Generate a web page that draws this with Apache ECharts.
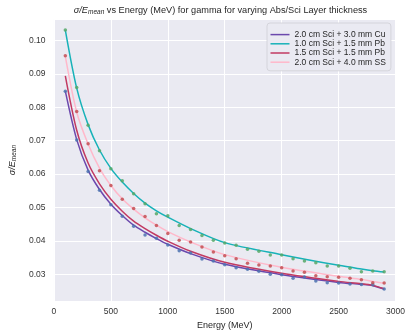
<!DOCTYPE html>
<html>
<head>
<meta charset="utf-8">
<script src="https://cdn.jsdelivr.net/npm/echarts@6/dist/echarts.min.js"></script>
<style>
  html, body { margin: 0; padding: 0; background: #fff; }
  #chart { width: 408px; height: 335px; }
</style>
</head>
<body>
<div id="chart"></div>
<script>
// measured energies (MeV)
var energies = [100, 200, 300, 400, 500, 600, 700, 800, 900, 1000, 1100, 1200, 1300, 1400, 1500,
  1600, 1700, 1800, 1900, 2000, 2100, 2200, 2300, 2400, 2500, 2600, 2700, 2800, 2900];

// data points (sigma / E_mean)
var ptsCu = [0.0848, 0.0702, 0.0608, 0.0552, 0.0508, 0.0474, 0.0444, 0.0418, 0.0408, 0.0388, 0.0371, 0.0364, 0.0346, 0.0340, 0.0329,
  0.0320, 0.0315, 0.0309, 0.0300, 0.0299, 0.0288, 0.0292, 0.0280, 0.0275, 0.0274, 0.0271, 0.0270, 0.0270, 0.0256];
var ptsPb10 = [0.1031, 0.0859, 0.0746, 0.0670, 0.0616, 0.0580, 0.0541, 0.0511, 0.0481, 0.0475, 0.0446, 0.0434, 0.0416, 0.0402, 0.0394,
  0.0387, 0.0375, 0.0369, 0.0358, 0.0358, 0.0347, 0.0340, 0.0335, 0.0325, 0.0325, 0.0318, 0.0308, 0.0310, 0.0308];
var ptsSS = [0.0954, 0.0787, 0.0691, 0.0610, 0.0566, 0.0525, 0.0497, 0.0473, 0.0446, 0.0422, 0.0402, 0.0397, 0.0382, 0.0367, 0.0356,
  0.0347, 0.0333, 0.0328, 0.0325, 0.0320, 0.0310, 0.0306, 0.0296, 0.0293, 0.0291, 0.0288, 0.0284, 0.0275, 0.0274];

var fitE = [100, 200, 300, 400, 500, 600, 700, 800, 900, 1000, 1200, 1500, 2000, 2500, 2700, 2800, 2900];
var fitCu   = [0.0848, 0.0703, 0.0612, 0.0554, 0.0510, 0.0476, 0.0447, 0.0426, 0.0407, 0.0390, 0.0362, 0.0330, 0.0299, 0.0276, 0.0270, 0.0266, 0.0256];
var fitPb10 = [0.1031, 0.0857, 0.0748, 0.0672, 0.0617, 0.0576, 0.0542, 0.0513, 0.0490, 0.0471, 0.0437, 0.0395, 0.0359, 0.0327, 0.0316, 0.0311, 0.0307];
var fitPb15 = [0.0894, 0.0731, 0.0633, 0.0571, 0.0525, 0.0489, 0.0459, 0.0437, 0.0417, 0.0399, 0.0369, 0.0336, 0.0303, 0.0279, 0.0272, 0.0267, 0.0257];
var fitSS   = [0.0952, 0.0785, 0.0690, 0.0618, 0.0566, 0.0526, 0.0495, 0.0469, 0.0447, 0.0428, 0.0397, 0.0359, 0.0321, 0.0294, 0.0285, 0.0279, 0.0273];

var names = ['2.0 cm Sci + 3.0 mm Cu', '1.0 cm Sci + 1.5 mm Pb', '1.5 cm Sci + 1.5 mm Pb', '2.0 cm Sci + 4.0 mm SS'];
var lineColors = ['#6b48ad', '#17b2b8', '#c23a62', '#ffb8ca'];
var fits = [fitCu, fitPb10, fitPb15, fitSS];
var points = [[ptsCu, '#4c72b0'], [ptsPb10, '#55a868'], [ptsSS, '#c44e52']];

function pairs(xs, ys) {
  return xs.map(function (x, i) { return [x, ys[i]]; });
}

var FONT = 'Liberation Sans';
var series = [];
fits.forEach(function (f, i) {
  series.push({
    name: names[i],
    type: 'line',
    data: pairs(fitE, f),
    smooth: 0.3,
    symbol: 'none',
    lineStyle: { color: lineColors[i], width: 1.5 },
    itemStyle: { color: lineColors[i] },
    z: 2
  });
});
points.forEach(function (p) {
  series.push({
    type: 'scatter',
    data: pairs(energies, p[0]),
    symbolSize: 3.5,
    itemStyle: { color: p[1], opacity: 0.85 },
    z: 3
  });
});

var chart = echarts.init(document.getElementById('chart'), null, { renderer: 'canvas' });
chart.setOption({
  animation: false,
  backgroundColor: '#ffffff',
  textStyle: { fontFamily: FONT },
  title: {
    text: '{i|σ/E}{s|mean}{n| vs Energy (MeV) for gamma for varying Abs/Sci Layer thickness}',
    left: 220.5,
    textAlign: 'center',
    top: 4.5,
    padding: 0,
    textStyle: {
      fontWeight: 'normal',
      rich: {
        i: { fontFamily: FONT, fontSize: 9.2, fontStyle: 'italic', fontWeight: 'normal', color: '#262626' },
        s: { fontFamily: FONT, fontSize: 6.5, fontStyle: 'italic', fontWeight: 'normal', color: '#262626', padding: [4, 0, 0, 0] },
        n: { fontFamily: FONT, fontSize: 9.2, fontWeight: 'normal', color: '#262626' }
      }
    }
  },
  legend: {
    orient: 'vertical',
    left: 267,
    top: 23,
    padding: [7, 5, 4, 3.5],
    itemWidth: 19,
    itemHeight: 1.5,
    itemGap: 0,
    icon: 'rect',
    backgroundColor: '#eaeaf2',
    borderColor: '#cfcfd6',
    borderWidth: 0.8,
    borderRadius: 3,
    data: names,
    textStyle: { fontFamily: FONT, fontSize: 8.5, color: '#262626', lineHeight: 9.2 }
  },
  grid: {
    left: 45.2,
    right: 12,
    top: 19,
    bottom: 27.7,
    show: true,
    backgroundColor: '#eaeaf2',
    borderWidth: 0
  },
  xAxis: {
    type: 'value',
    min: 0,
    max: 3000,
    interval: 500,
    name: 'Energy (MeV)',
    nameLocation: 'middle',
    nameGap: 17.5,
    nameTextStyle: { fontFamily: FONT, fontSize: 9, color: '#262626' },
    axisLine: { show: false },
    axisTick: { show: false },
    axisLabel: {
      fontFamily: FONT, fontSize: 8.5, color: '#333333', margin: 6,
      formatter: function (v) { return String(v); }
    },
    splitLine: { show: true, lineStyle: { color: '#ffffff', width: 1 } }
  },
  yAxis: {
    type: 'value',
    min: 0.0220,
    max: 0.1064,
    splitNumber: 8,
    minInterval: 0.01,
    maxInterval: 0.01,
    name: '{i|σ/E}{s|mean}',
    nameLocation: 'middle',
    nameRotate: 90,
    nameGap: 28,
    nameTextStyle: {
      rich: {
        i: { fontFamily: FONT, fontSize: 9, fontStyle: 'italic', color: '#262626' },
        s: { fontFamily: FONT, fontSize: 6.5, fontStyle: 'italic', color: '#262626', padding: [4, 0, 0, 0] }
      }
    },
    axisLine: { show: false },
    axisTick: { show: false },
    axisLabel: {
      fontFamily: FONT, fontSize: 8.5, color: '#333333', margin: 8.5,
      showMinLabel: false, showMaxLabel: false,
      formatter: function (v) { return v.toFixed(2); }
    },
    splitLine: { show: true, lineStyle: { color: '#ffffff', width: 1 } }
  },
  series: series
});
</script>
</body>
</html>
